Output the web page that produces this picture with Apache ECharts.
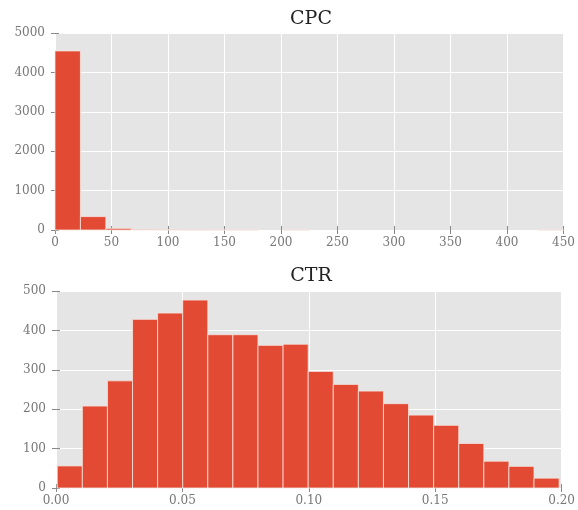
<!DOCTYPE html>
<html>
<head>
<meta charset="utf-8">
<script src="https://cdn.jsdelivr.net/npm/echarts@6/dist/echarts.min.js"></script>
<style>html,body{margin:0;padding:0;background:#fff}#c{width:578px;height:510px}</style>
</head>
<body>
<div id="c"></div>
<script>
// ---- data ----
const cpcTitle = 'CPC';
const ctrTitle = 'CTR';
const cpcBinStart = 0;
const cpcBinWidth = 22.5;
const cpcCounts = [4545, 340, 42, 15, 4, 2, 1, 1, 0, 1, 0, 0, 0, 0, 0, 0, 0, 0, 0, 1];
const cpcXTicks = [0, 50, 100, 150, 200, 250, 300, 350, 400, 450];
const cpcYTicks = [0, 1000, 2000, 3000, 4000, 5000];
const ctrBinStart = 0.0005;
const ctrBinWidth = 0.009925;
const ctrCounts = [56, 208, 272, 428, 444, 477, 389, 389, 362, 365, 296, 263, 246, 214, 185, 159, 113, 68, 55, 25];
const ctrXTicks = ['0.00', '0.05', '0.10', '0.15', '0.20'];
const ctrYTicks = [0, 100, 200, 300, 400, 500];

// ---- build ----
function binData(start, width, counts) {
  return counts.map((c, i) => [start + i * width, start + (i + 1) * width, c]);
}
const RED = '#E24A33';
const FONT = 'DejaVu Serif';
const LABEL = '#777777';
function renderBar(params, api) {
  if (!api.value(2)) return null;
  const p0 = api.coord([api.value(0), 0]);
  const p1 = api.coord([api.value(1), api.value(2)]);
  return {
    type: 'rect',
    shape: { x: p0[0], y: p1[1], width: p1[0] - p0[0], height: p0[1] - p1[1] },
    style: { fill: RED, stroke: '#f4e4e0', lineWidth: 0.8 }
  };
}
function xAx(gridIndex, ticks, pos, labels, fmt) {
  const mn = +ticks[0], mx = +ticks[ticks.length - 1];
  return {
    type: 'value', gridIndex, position: pos, min: mn, max: mx, interval: (mx - mn) / (ticks.length - 1),
    axisLine: { show: false },
    axisTick: { show: true, inside: false, length: 4, lineStyle: { color: '#888', width: 1 } },
    axisLabel: { show: labels, margin: 7, color: LABEL, fontFamily: FONT, fontSize: 12, formatter: fmt, showMaxLabel: true, showMinLabel: true },
    splitLine: { show: labels, lineStyle: { color: '#ffffff', width: 1 } }
  };
}
function yAx(gridIndex, ticks, pos, labels) {
  const mn = ticks[0], mx = ticks[ticks.length - 1];
  return {
    type: 'value', gridIndex, position: pos, min: mn, max: mx, interval: (mx - mn) / (ticks.length - 1),
    axisLine: { show: false },
    axisTick: { show: true, inside: false, length: 4, lineStyle: { color: '#888', width: 1 } },
    axisLabel: { show: labels, margin: 10, color: LABEL, fontFamily: FONT, fontSize: 12, formatter: v => String(v) },
    splitLine: { show: labels, lineStyle: { color: '#ffffff', width: 1 } }
  };
}
const chart = echarts.init(document.getElementById('c'), null, { renderer: 'canvas' });
chart.setOption({
  animation: false,
  backgroundColor: '#ffffff',
  title: [
    { text: cpcTitle, left: 311, top: 10, textAlign: 'center', padding: 0,
      textStyle: { fontFamily: FONT, fontSize: 19, fontWeight: 'normal', color: '#222' } },
    { text: ctrTitle, left: 311, top: 267, textAlign: 'center', padding: 0,
      textStyle: { fontFamily: FONT, fontSize: 19, fontWeight: 'normal', color: '#222' } }
  ],
  grid: [
    { left: 55, right: 12, top: 33, height: 197, show: true, backgroundColor: '#E5E5E5', borderWidth: 0 },
    { left: 56, right: 12, top: 291, height: 197, show: true, backgroundColor: '#E5E5E5', borderWidth: 0 }
  ],
  xAxis: [
    xAx(0, cpcXTicks, 'bottom', true, v => String(v)),
    xAx(0, cpcXTicks, 'top', false),
    xAx(1, ctrXTicks, 'bottom', true, v => v.toFixed(2)),
    xAx(1, ctrXTicks, 'top', false)
  ],
  yAxis: [
    yAx(0, cpcYTicks, 'left', true),
    yAx(0, cpcYTicks, 'right', false),
    yAx(1, ctrYTicks, 'left', true),
    yAx(1, ctrYTicks, 'right', false)
  ],
  series: [
    { type: 'custom', xAxisIndex: 0, yAxisIndex: 0, renderItem: renderBar,
      encode: { x: [0, 1], y: 2 }, data: binData(cpcBinStart, cpcBinWidth, cpcCounts) },
    { type: 'custom', xAxisIndex: 2, yAxisIndex: 2, renderItem: renderBar,
      encode: { x: [0, 1], y: 2 }, data: binData(ctrBinStart, ctrBinWidth, ctrCounts) }
  ]
});
</script>
</body>
</html>
